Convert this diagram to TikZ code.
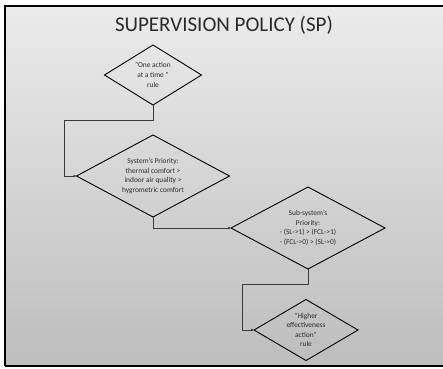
\documentclass[tikz,border=0pt]{standalone}
\usepackage{fontspec}
\setmainfont{Carlito}
\usetikzlibrary{shapes.geometric,arrows.meta}
\definecolor{bgtop}{HTML}{EBEBEB}
\definecolor{bgbot}{HTML}{BDBDBD}
\definecolor{txt}{HTML}{2A2A2A}
\definecolor{conn}{HTML}{3A3A3A}
\tikzset{
  dia/.style={diamond, draw=black, line width=0.9pt, inner sep=0pt, outer sep=0pt},
  dtext/.style={align=center, text=txt, font=\fontsize{7.4}{9.6}\selectfont, inner sep=0pt},
  link/.style={draw=conn, line width=0.6pt, -{Latex[length=3pt,width=3pt]}},
  plain/.style={draw=conn, line width=0.6pt}
}
\begin{document}
\begin{tikzpicture}[x=1pt,y=-1pt]
\useasboundingbox (0,0) rectangle (443,368);
\fill[white] (0,0) rectangle (443,368);
\shade[top color=bgtop, bottom color=bgbot] (5,6) rectangle (443,366);
\draw[black, line width=1.3pt] (443,6) -- (5,6) -- (5,366);
\draw[black, line width=2pt] (5,366) -- (443,366);
\node (title) at (224,25) {\fontsize{21}{25}\selectfont\color{txt}SUPERVISION POLICY (SP)};

\node[dia, minimum width=97pt, minimum height=60pt] (d1) at (153,75) {};
\node[dtext] (t1) at (d1.center) {"One action\\at a time "\\rule};

\node[dia, minimum width=153pt, minimum height=82pt] (d2) at (153,176) {};
\node[dtext] (t2) at (d2.center) {System's Priority:\\thermal comfort >\\indoor air quality >\\hygrometric comfort};

\node[dia, minimum width=154pt, minimum height=82pt] (d3) at (308,228) {};
\node[dtext] (t3) at (d3.center) {Sub-system's\\Priority:\\- (SL->1) > (FCL->1)\\- (FCL->0) > (SL->0)};

\node[dia, minimum width=104pt, minimum height=61pt] (d4) at (306,330) {};
\node[dtext] (t4) at (d4.center) {"Higher\\effectiveness\\action"\\rule};

\coordinate (c1) at (153,120);
\coordinate (c2) at (64,120);
\coordinate (c3) at (64,176);
\draw[plain] (d1.south) -- (c1) -- (c2) -- (c3);
\draw[link] (c3) -- (d2.west);

\draw[link] (d2.south) |- (d3.west);

\coordinate (c4) at (308,284);
\coordinate (c5) at (242,284);
\coordinate (c6) at (242,330);
\draw[plain] (d3.south) -- (c4) -- (c5) -- (c6);
\draw[link] (c6) -- (d4.west);
\end{tikzpicture}
\end{document}
